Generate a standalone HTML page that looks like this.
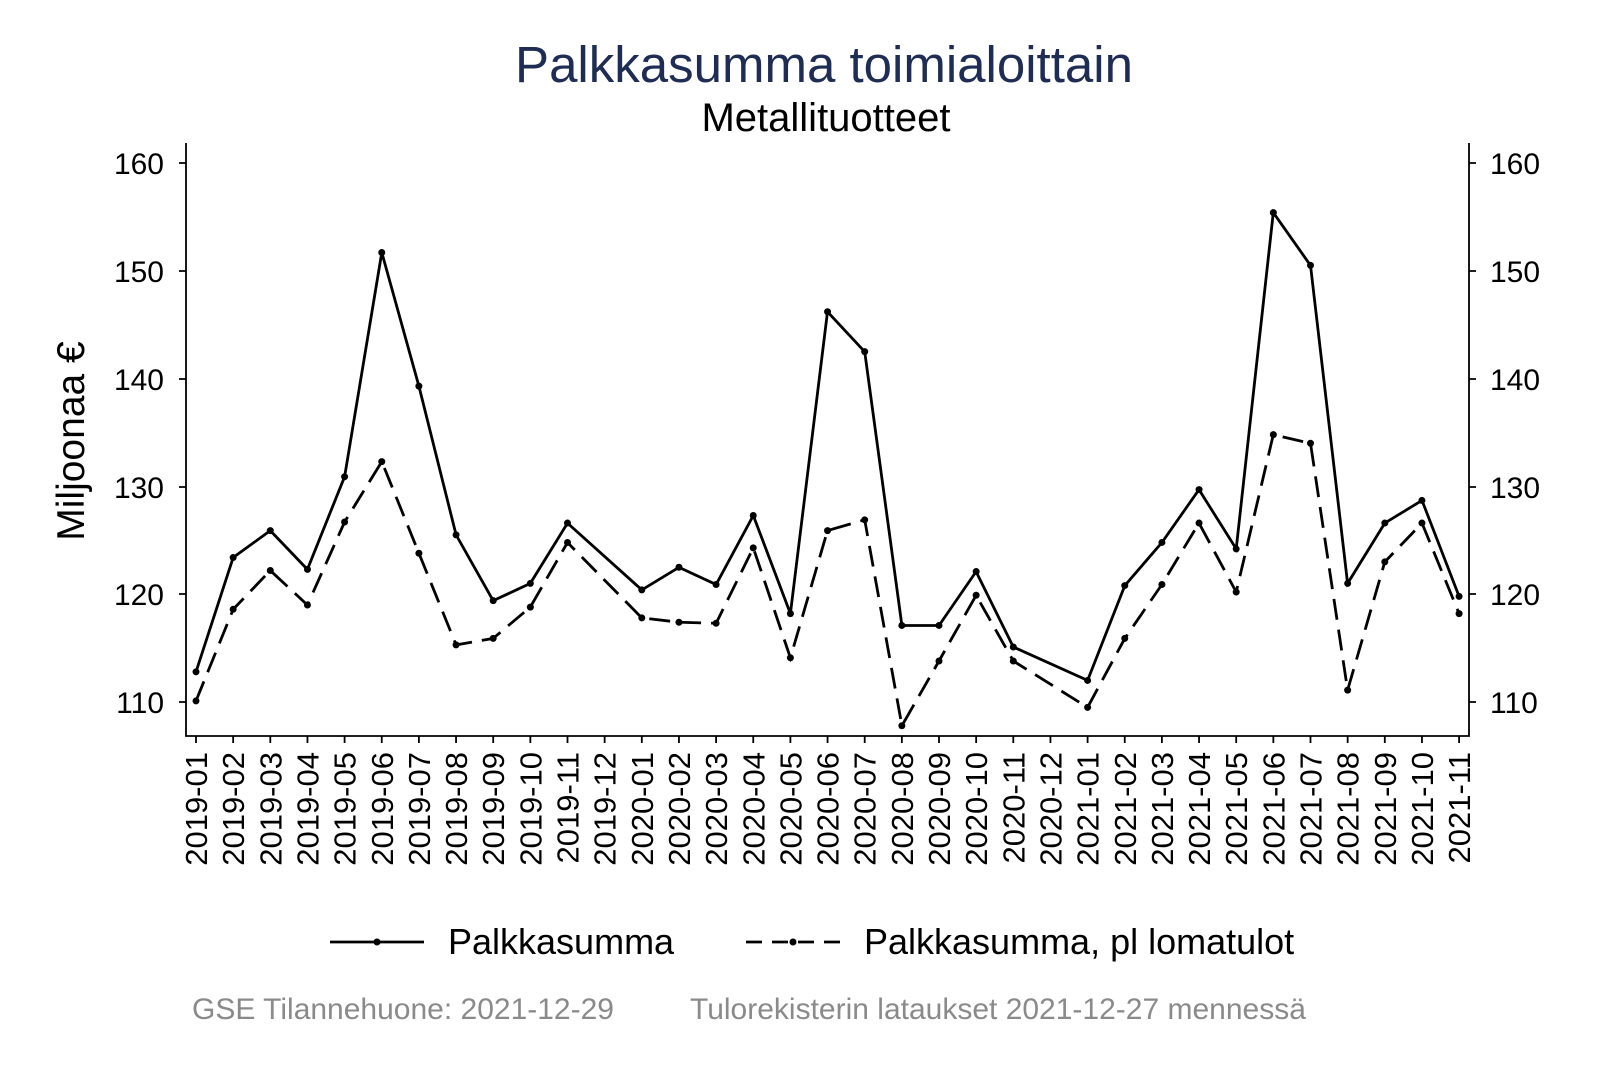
<!DOCTYPE html>
<html><head><meta charset="utf-8"><style>
html,body{margin:0;padding:0;background:#fff;}
svg{display:block;font-family:"Liberation Sans",Arial,sans-serif;}
</style></head><body>
<svg id="s" width="1600" height="1067" viewBox="0 0 1600 1067" xmlns="http://www.w3.org/2000/svg">
<rect width="1600" height="1067" fill="#fff"/>
<text x="824" y="82" font-size="51" fill="#1f2d54" text-anchor="middle">Palkkasumma toimialoittain</text>
<text x="826" y="131" font-size="40" fill="#000" text-anchor="middle">Metallituotteet</text>
<text transform="translate(84,441) rotate(-90)" font-size="39" text-anchor="middle">Miljoonaa €</text>
<g stroke="#000" stroke-width="1.8" fill="none">
<path d="M186,143V736H1469V143"/>
<path d="M179,163H186M179,271H186M179,379H186M179,487H186M179,594H186M179,702H186"/>
<path d="M1469,163H1476M1469,271H1476M1469,379H1476M1469,487H1476M1469,594H1476M1469,702H1476"/>
</g>
<g font-size="30" text-anchor="end">
<text x="164" y="174">160</text><text x="164" y="282">150</text><text x="164" y="390">140</text><text x="164" y="498">130</text><text x="164" y="605">120</text><text x="164" y="713">110</text>
</g>
<g font-size="30">
<text x="1490" y="174">160</text><text x="1490" y="282">150</text><text x="1490" y="390">140</text><text x="1490" y="498">130</text><text x="1490" y="605">120</text><text x="1490" y="713">110</text>
</g>
<g id="xt" font-size="31" text-anchor="end"></g>
<g id="ticks" stroke="#000" stroke-width="1.8"></g>
<g id="lines"></g>
<path d="M330,942H424" stroke="#000" stroke-width="2.8"/><circle cx="377" cy="942" r="3.5"/>
<text x="448" y="954" font-size="36">Palkkasumma</text>
<path d="M746,942H840" stroke="#000" stroke-width="2.8" stroke-dasharray="16,10"/><circle cx="793" cy="942" r="3.5"/>
<text x="864" y="954" font-size="36">Palkkasumma, pl lomatulot</text>
<text x="192" y="1019" font-size="30" fill="#8a8a8a">GSE Tilannehuone: 2021-12-29</text>
<text x="690" y="1019" font-size="30" fill="#8a8a8a">Tulorekisterin lataukset 2021-12-27 mennessä</text>
</svg>
<script>
var ns="http://www.w3.org/2000/svg";
var s1=[112.8,123.4,125.9,122.3,130.9,151.7,139.3,125.5,119.4,121.0,126.6,null,120.4,122.5,120.9,127.3,118.2,146.2,142.5,117.1,117.1,122.1,115.1,null,112.0,120.8,124.8,129.7,124.2,155.4,150.5,121.0,126.6,128.7,119.8];
var s2=[110.1,118.6,122.2,119.0,126.7,132.3,123.8,115.3,115.9,118.8,124.8,null,117.8,117.4,117.3,124.3,114.1,125.9,126.9,107.8,113.8,119.9,113.8,null,109.5,115.9,120.9,126.6,120.2,134.8,134.0,111.1,123.0,126.6,118.2];
function X(i){return 196+i*37.15;}function Y(v){return 702-(v-110)*10.78;}
var xt=document.getElementById("xt"),tk=document.getElementById("ticks"),ln=document.getElementById("lines");
var t="";
for(var i=0;i<35;i++){var y=2019+Math.floor(i/12),m=i%12+1;var lab=y+"-"+(m<10?"0":"")+m;
var tx=document.createElementNS(ns,"text");tx.setAttribute("transform","translate("+(X(i)+11)+",752) rotate(-90)");tx.textContent=lab;xt.appendChild(tx);
t+="M"+X(i)+",736V743";}
var p=document.createElementNS(ns,"path");p.setAttribute("d",t);tk.appendChild(p);
function draw(d,dash){var s="";d.forEach(function(v,i){if(v==null)return;s+=(s?"L":"M")+X(i).toFixed(1)+","+Y(v).toFixed(1);
var c=document.createElementNS(ns,"circle");c.setAttribute("cx",X(i));c.setAttribute("cy",Y(v));c.setAttribute("r",3.5);ln.appendChild(c);});
var q=document.createElementNS(ns,"path");q.setAttribute("d",s);q.setAttribute("fill","none");q.setAttribute("stroke","#000");q.setAttribute("stroke-width","2.8");if(dash)q.setAttribute("stroke-dasharray","21,10");ln.appendChild(q);}
draw(s1,false);draw(s2,true);
</script>
</body></html>
